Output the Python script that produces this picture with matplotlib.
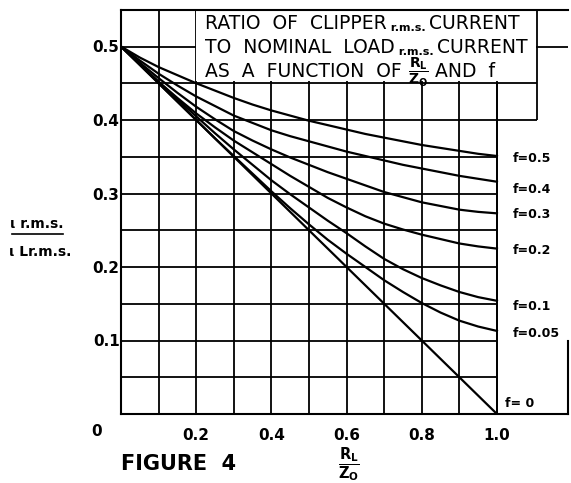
import numpy as np
import matplotlib
matplotlib.use("Agg")
import matplotlib.pyplot as plt

plt.rcParams['font.family'] = ['DejaVu Sans']
plt.rcParams['mathtext.fontset'] = 'custom'
plt.rcParams['mathtext.rm'] = 'DejaVu Sans'
plt.rcParams['mathtext.bf'] = 'DejaVu Sans:bold'
plt.rcParams['mathtext.it'] = 'DejaVu Sans'

ratio = [0.0, 0.05, 0.1, 0.15, 0.2, 0.25, 0.3, 0.35, 0.4, 0.45, 0.5,
         0.55, 0.6, 0.65, 0.7, 0.75, 0.8, 0.85, 0.9, 0.95, 1.0]

# i_rms / i_L_rms for each f
f_05 = [0.5, 0.485, 0.472, 0.461, 0.450, 0.440, 0.430, 0.421, 0.413, 0.406, 0.399,
        0.393, 0.387, 0.381, 0.376, 0.371, 0.366, 0.362, 0.358, 0.354, 0.351]
f_04 = [0.5, 0.481, 0.463, 0.447, 0.432, 0.419, 0.406, 0.396, 0.386, 0.378, 0.371,
        0.364, 0.357, 0.351, 0.345, 0.339, 0.334, 0.329, 0.324, 0.320, 0.316]
f_03 = [0.5, 0.478, 0.457, 0.437, 0.418, 0.401, 0.385, 0.372, 0.360, 0.349, 0.339,
        0.329, 0.320, 0.311, 0.302, 0.295, 0.288, 0.283, 0.278, 0.275, 0.273]
f_02 = [0.5, 0.476, 0.452, 0.430, 0.409, 0.390, 0.372, 0.356, 0.340, 0.324, 0.309,
        0.294, 0.281, 0.269, 0.259, 0.251, 0.244, 0.238, 0.232, 0.228, 0.225]
f_01 = [0.5, 0.476, 0.452, 0.428, 0.405, 0.382, 0.360, 0.339, 0.318, 0.299, 0.281,
        0.263, 0.246, 0.228, 0.211, 0.197, 0.185, 0.175, 0.166, 0.159, 0.154]
f_005 = [0.5, 0.475, 0.450, 0.425, 0.400, 0.375, 0.351, 0.327, 0.303, 0.280, 0.258,
         0.237, 0.218, 0.200, 0.182, 0.166, 0.151, 0.138, 0.127, 0.119, 0.113]
f_0 = [0.5, 0.475, 0.45, 0.425, 0.40, 0.375, 0.35, 0.325, 0.30, 0.275, 0.25,
       0.225, 0.20, 0.175, 0.15, 0.125, 0.10, 0.075, 0.05, 0.025, 0.0]

curves = [f_05, f_04, f_03, f_02, f_01, f_005, f_0]
curve_labels = ['f=0.5', 'f=0.4', 'f=0.3', 'f=0.2', 'f=0.1', 'f=0.05', 'f= 0']

xtick_vals = [0.2, 0.4, 0.6, 0.8, 1.0]
xtick_text = ['0.2', '0.4', '0.6', '0.8', '1.0']
ytick_vals = [0.1, 0.2, 0.3, 0.4, 0.5]
ytick_text = ['0.1', '0.2', '0.3', '0.4', '0.5']

# label placement (layout only)
label_x = [1.043, 1.043, 1.043, 1.043, 1.043, 1.043, 1.022]
label_y = [0.348, 0.305, 0.271, 0.223, 0.146, 0.110, 0.014]

W, H = 571, 483
fig = plt.figure(figsize=(W / 100, H / 100), dpi=100)
ax = fig.add_axes([121 / W, 1 - 414 / H, (568.4 - 121) / W, (414 - 9.75) / H])
ax.set_xlim(0, 1.19)
ax.set_ylim(0, 0.55)

lw_grid = 1.3
box_right = 1.106

# grid
for yv in np.arange(0.05, 0.351, 0.05):
    ax.hlines(yv, 0, 1.0, color='black', lw=lw_grid, zorder=1)
for yv in [0.4, 0.45]:
    ax.hlines(yv, 0, box_right, color='black', lw=lw_grid, zorder=1)
ax.hlines(0.5, 0, 1.19, color='black', lw=lw_grid, zorder=1)
for xv in np.arange(0.1, 1.01, 0.1):
    ax.vlines(xv, 0, 0.55, color='black', lw=lw_grid, zorder=1)
ax.vlines(box_right, 0.4, 0.55, color='black', lw=lw_grid, zorder=1)

# blank area for the caption block
ax.add_patch(plt.Rectangle((0.2, 0.4525), box_right - 0.2 - 0.003, 0.1, color='white', zorder=2, lw=0))
ax.vlines(1.0, 0, 0.45, color='black', lw=lw_grid, zorder=1)

for c in curves:
    ax.plot(ratio, c, color='black', lw=1.6, zorder=3, solid_joinstyle='round')

for lab, lx, ly in zip(curve_labels, label_x, label_y):
    ax.text(lx, ly, lab, fontsize=9, fontweight='bold', va='center', ha='left', zorder=4)

# spines
for s in ['left', 'bottom', 'top', 'right']:
    ax.spines[s].set_linewidth(1.5)
ax.spines['right'].set_bounds(0, 0.1)

ax.set_xticks(xtick_vals)
ax.set_xticklabels(xtick_text)
ax.set_yticks(ytick_vals)
ax.set_yticklabels(ytick_text)
ax.tick_params(length=0, labelsize=11)
ax.tick_params(axis='x', pad=10)
ax.tick_params(axis='y', pad=1)
for t in ax.get_xticklabels() + ax.get_yticklabels():
    t.set_fontweight('bold')
ax.annotate('0', xy=(0, 0), xytext=(-24, -18), textcoords='offset pixels',
            fontsize=11, fontweight='bold', ha='center', va='center')

# caption block
tx = 0.224
big = 13.5
small = 8
t1 = ax.text(tx, 0.518, 'RATIO  OF  CLIPPER', fontsize=big, va='bottom', zorder=5)
t2 = ax.annotate(' r.m.s. ', xy=(1, 0), xycoords=t1, fontsize=small, fontweight='bold', va='bottom', zorder=5)
ax.annotate('CURRENT', xy=(1, 0), xycoords=t2, fontsize=big, va='bottom', zorder=5)
t1 = ax.text(tx, 0.486, 'TO  NOMINAL  LOAD', fontsize=big, va='bottom', zorder=5)
t2 = ax.annotate(' r.m.s. ', xy=(1, 0), xycoords=t1, fontsize=small, fontweight='bold', va='bottom', zorder=5)
ax.annotate('CURRENT', xy=(1, 0), xycoords=t2, fontsize=big, va='bottom', zorder=5)
t1 = ax.text(tx, 0.453, 'AS  A  FUNCTION  OF ', fontsize=big, va='bottom', zorder=5)
t2 = ax.annotate(r'$\dfrac{\mathbf{R}_{\mathbf{L}}}{\mathbf{Z}_{\mathbf{O}}}$', xy=(1, 0.45), xycoords=t1,
                 fontsize=10, va='center', zorder=5)
ax.annotate(' AND  f', xy=(1, 0), xycoords=(t2, t1), fontsize=big, va='bottom', zorder=5)

# axis labels
fig.text(349 / W, 1 - 464 / H, r'$\dfrac{\mathbf{R}_{\mathbf{L}}}{\mathbf{Z}_{\mathbf{O}}}$',
         fontsize=10.5, ha='center', va='center')
fig.text(37 / W, 1 - 224 / H, '\u03b9 r.m.s.', fontsize=10, fontweight='bold', ha='center', va='center')
fig.text(40 / W, 1 - 252 / H, '\u03b9 Lr.m.s.', fontsize=10, fontweight='bold', ha='center', va='center')
fig.add_artist(plt.Line2D([12 / W, 63 / W], [1 - 234 / H, 1 - 234 / H], color='black', lw=1.2))

fig.text(121 / W, 1 - 464 / H, 'FIGURE  4', fontsize=15, fontweight='bold', ha='left', va='center')

fig.savefig('out.png', dpi=100)
